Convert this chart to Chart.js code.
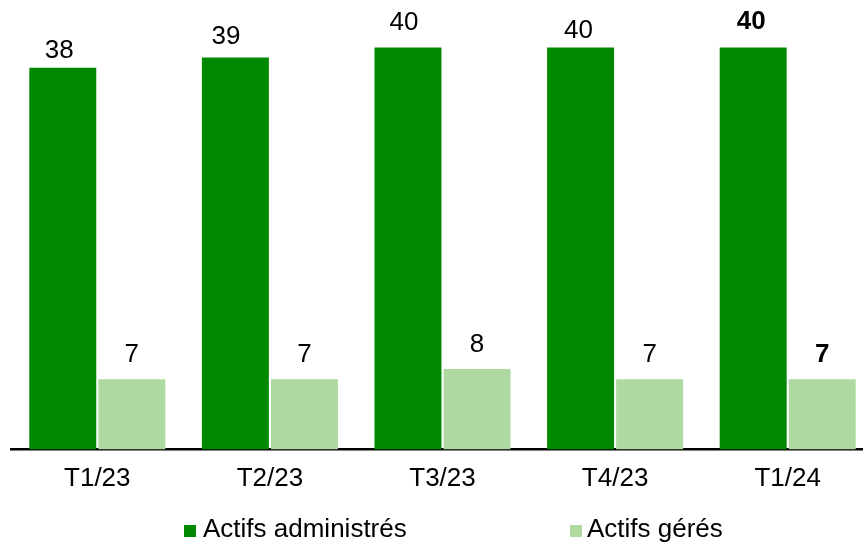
<!DOCTYPE html>
<html>
<head>
<meta charset="utf-8">
<script src="https://cdn.jsdelivr.net/npm/chart.js@4.4.1/dist/chart.umd.min.js"></script>
<style>
  html, body { margin: 0; padding: 0; background: #ffffff; overflow: hidden; width: 863px; height: 544px; }
  #wrap { position: relative; width: 874px; height: 544px; }
  canvas { display: block; }
</style>
</head>
<body>
<div id="wrap"><canvas id="c" width="874" height="544" style="width:874px;height:544px"></canvas></div>
<script>
// Quarterly assets (in billions)
const quarters = ['T1/23', 'T2/23', 'T3/23', 'T4/23', 'T1/24'];
const actifsAdministres = [38, 39, 40, 40, 40];
const actifsGeres = [7, 7, 8, 7, 7];
const seriesNames = ['Actifs administrés', 'Actifs gérés'];

const DARK_GREEN = '#008800';
const LIGHT_GREEN = '#aed9a0';
const FONT_FAMILY = '"Liberation Sans", Arial, Helvetica, sans-serif';

// Numbers above each bar; the latest quarter is set in bold
const valueLabels = {
  id: 'valueLabels',
  afterDatasetsDraw(chart, args, opts) {
    const ctx = chart.ctx;
    ctx.save();
    ctx.fillStyle = '#000000';
    ctx.textAlign = 'center';
    ctx.textBaseline = 'alphabetic';
    chart.data.datasets.forEach((ds, di) => {
      const meta = chart.getDatasetMeta(di);
      const lift = opts.lift[di];
      const shift = opts.shift[di];
      meta.data.forEach((bar, i) => {
        const bold = i === ds.data.length - 1;
        ctx.font = (bold ? 'bold ' : '') + opts.size + 'px ' + FONT_FAMILY;
        ctx.fillText(String(ds.data[i]), bar.x + shift[i], bar.y - lift[i]);
      });
    });
    ctx.restore();
  }
};

// Legend row under the axis with wide spacing between the two entries
const wideLegend = {
  id: 'wideLegend',
  afterDraw(chart, args, opts) {
    const ctx = chart.ctx;
    ctx.save();
    ctx.font = opts.size + 'px ' + FONT_FAMILY;
    ctx.textAlign = 'left';
    ctx.textBaseline = 'alphabetic';
    chart.data.datasets.forEach((ds, di) => {
      const x = opts.x[di];
      ctx.fillStyle = ds.backgroundColor;
      ctx.fillRect(x, opts.boxTop, opts.box, opts.box);
      ctx.fillStyle = '#000000';
      ctx.fillText(ds.label, x + opts.box + opts.gap[di], opts.baseline);
    });
    ctx.restore();
  }
};

new Chart(document.getElementById('c'), {
  type: 'bar',
  data: {
    labels: quarters,
    datasets: [
      {
        label: seriesNames[0],
        data: actifsAdministres,
        backgroundColor: DARK_GREEN,
        borderWidth: 0,
        categoryPercentage: 0.8,
        barPercentage: 0.97
      },
      {
        label: seriesNames[1],
        data: actifsGeres,
        backgroundColor: LIGHT_GREEN,
        borderWidth: 0,
        categoryPercentage: 0.8,
        barPercentage: 0.97
      }
    ]
  },
  options: {
    responsive: false,
    animation: false,
    devicePixelRatio: 1,
    layout: { padding: { left: 11, right: 0, top: 0, bottom: 0 } },
    plugins: {
      legend: { display: false },
      tooltip: { enabled: false },
      title: { display: false },
      valueLabels: {
        size: 26,
        lift: [[10, 14, 18, 10, 19], [17.5, 17.5, 17.5, 17.5, 17.5]],
        shift: [[-3.5, -9.5, -4, -2, -2], [0, 0, 0, 0, 0]]
      },
      wideLegend: {
        size: 26,
        x: [184, 570],
        box: 12,
        boxTop: 525,
        gap: [7, 5],
        baseline: 537
      }
    },
    scales: {
      x: {
        z: 1,
        grid: { display: false, drawTicks: false },
        border: { display: true, color: '#000000', width: 2.5 },
        ticks: {
          color: '#000000',
          font: { family: FONT_FAMILY, size: 26 },
          padding: 14,
          maxRotation: 0,
          autoSkip: false
        },
        afterFit(scale) { scale.height = 544 - 449.5; }
      },
      y: {
        display: false,
        min: 0,
        max: 44.73
      }
    }
  },
  plugins: [valueLabels, wideLegend]
});
</script>
</body>
</html>
